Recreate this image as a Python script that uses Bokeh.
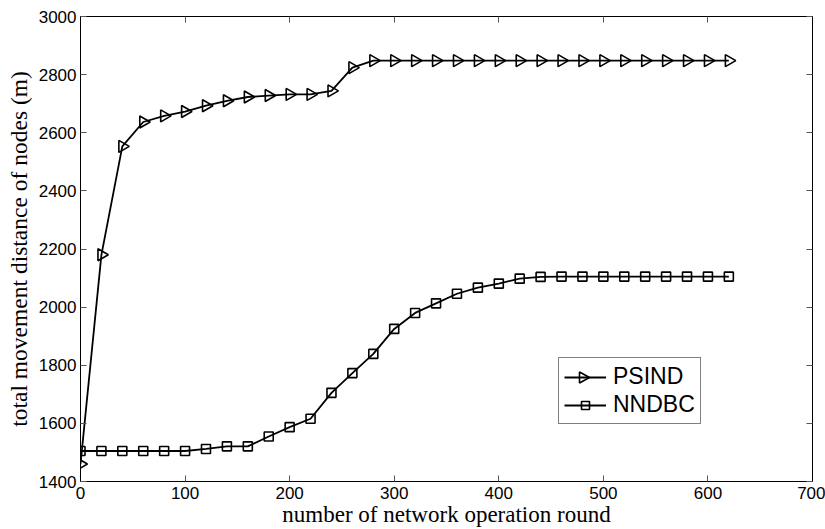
import numpy as np
from bokeh.plotting import figure
from bokeh.models import LinearAxis, Legend, LegendItem, FixedTicker, Range1d, PolyAnnotation
from bokeh.embed import file_html
from bokeh.resources import INLINE

rounds = list(range(0, 640, 20))
psind = [1460, 2180, 2553, 2637, 2658, 2673, 2693, 2710, 2723, 2728, 2732, 2732,
         2744, 2824, 2848, 2848, 2848, 2848, 2848, 2848, 2848, 2848, 2848, 2848,
         2848, 2848, 2848, 2848, 2848, 2848, 2848, 2848]
nndbc = [1505, 1505, 1505, 1505, 1505, 1505, 1512, 1521, 1521, 1555, 1587, 1616,
         1705, 1773, 1839, 1925, 1980, 2013, 2046, 2067, 2081, 2098, 2104, 2105,
         2105, 2105, 2105, 2105, 2105, 2105, 2105, 2105]
x_ticks = [0, 100, 200, 300, 400, 500, 600, 700]
y_ticks = [1400, 1600, 1800, 2000, 2200, 2400, 2600, 2800, 3000]
series_names = ["PSIND", "NNDBC"]

p = figure(width=825, height=529, output_backend="svg", toolbar_location=None,
           x_range=Range1d(0, 700), y_range=Range1d(1400, 3000),
           min_border_left=80, min_border_right=13, min_border_top=16,
           min_border_bottom=48)
p.grid.visible = False
p.outline_line_color = "black"
p.outline_line_width = 1
p.background_fill_color = "white"

def style_axis(ax, ticks, show_labels=True):
    ax.ticker = FixedTicker(ticks=ticks)
    ax.major_tick_in = 6
    ax.major_tick_out = 0
    ax.minor_tick_line_color = None
    ax.major_tick_line_color = "#555555"
    ax.axis_line_color = "black"
    ax.major_label_text_font = "Liberation Sans"
    ax.major_label_text_font_size = "17px"
    ax.major_label_text_color = "black" if show_labels else None
    ax.axis_label_text_font = "Liberation Serif"
    ax.axis_label_text_font_style = "normal"
    ax.axis_label_text_color = "black"

style_axis(p.xaxis[0], x_ticks)
style_axis(p.yaxis[0], y_ticks)
p.xaxis[0].axis_label = "number of network operation round"
p.xaxis[0].axis_label_text_font_size = "23px"
p.xaxis[0].major_label_standoff = 5
p.xaxis[0].axis_label_standoff = 0
p.yaxis[0].axis_label = "total movement distance of nodes (m)"
p.yaxis[0].axis_label_text_font_size = "23.5px"
p.yaxis[0].major_label_standoff = 4
p.yaxis[0].axis_label_standoff = 4

top = LinearAxis()
style_axis(top, x_ticks, show_labels=False)
top.major_label_text_font_size = "0px"
p.add_layout(top, "above")
right = LinearAxis()
style_axis(right, y_ticks, show_labels=False)
right.major_label_text_font_size = "0px"
p.add_layout(right, "right")

l1 = p.line(rounds, psind, line_color="black", line_width=1.8)
m1 = p.scatter(rounds, psind, marker="triangle", angle=-np.pi / 2, size=12,
               line_color="black", line_width=1.6, fill_alpha=0)
l2 = p.line(rounds, nndbc, line_color="black", line_width=1.8)
m2 = p.scatter(rounds, nndbc, marker="square", size=9,
               line_color="black", line_width=1.6, fill_alpha=0)

# right-pointing triangle sample for the PSIND legend entry (legend swatch)
cx, cy = 504, 104
tri = PolyAnnotation(xs=[cx - 5, cx - 5, cx + 5], ys=[cy + 5.5, cy - 5.5, cy],
                     xs_units="screen", ys_units="screen",
                     fill_color="white", fill_alpha=0,
                     line_color="black", line_alpha=1.0, line_width=1.6)
p.add_layout(tri)

legend = Legend(items=[LegendItem(label=series_names[0], renderers=[l1]),
                       LegendItem(label=series_names[1], renderers=[l2, m2])],
                location=(478, 57))
legend.label_text_font = "Liberation Sans"
legend.label_text_font_size = "23px"
legend.label_text_color = "black"
legend.glyph_width = 42
legend.glyph_height = 20
legend.label_height = 20
legend.padding = 5
legend.spacing = 1
legend.margin = 0
legend.label_standoff = 7
legend.border_line_color = "black"
legend.border_line_width = 1
legend.background_fill_alpha = 0
p.add_layout(legend)

open("out.html", "w").write(file_html(p, INLINE))
